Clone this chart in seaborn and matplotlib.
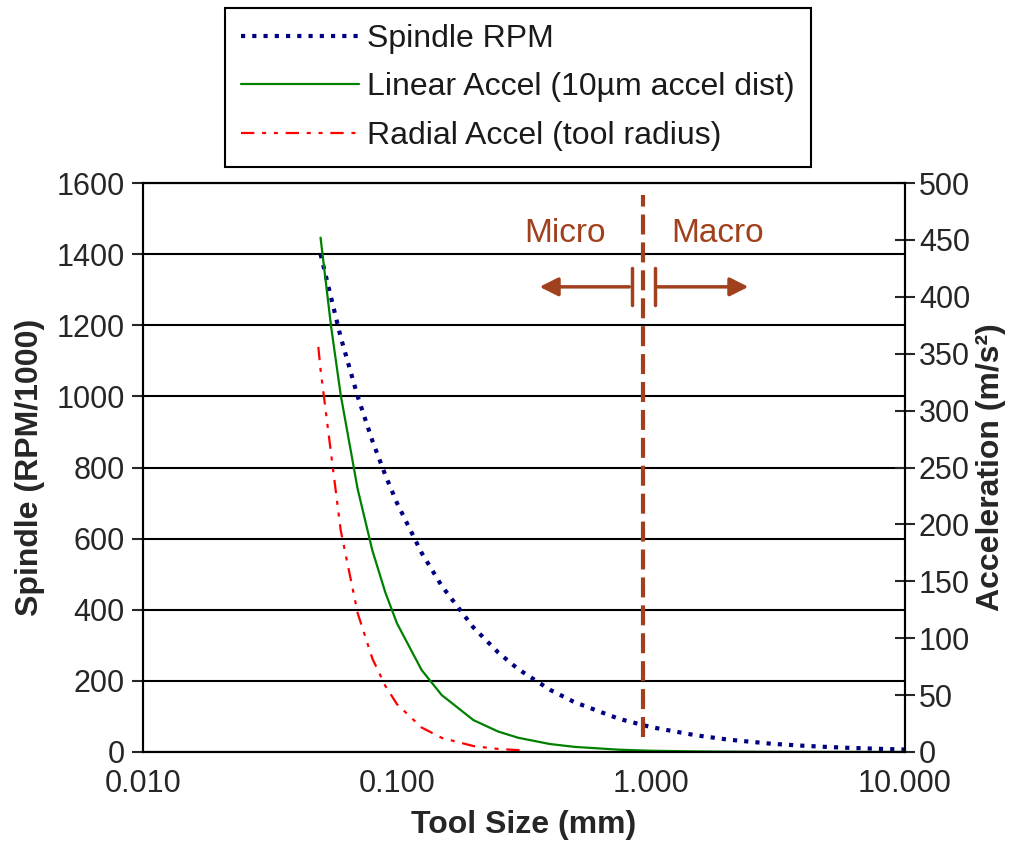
import matplotlib
matplotlib.use("Agg")
import matplotlib.pyplot as plt
import seaborn as sns
from matplotlib.ticker import FixedLocator, FuncFormatter, NullLocator

# spindle speed (RPM/1000) vs tool size (mm)
rpm_size = [0.05, 0.06, 0.07, 0.08, 0.09, 0.1, 0.125, 0.15, 0.2, 0.25, 0.3, 0.4,
            0.5, 0.75, 1.0, 1.5, 2.0, 3.0, 4.0, 5.0, 6.0, 8.0, 10.0]
rpm_vals = [1400, 1167, 1000, 875, 778, 700, 560, 467, 350, 280, 233, 175,
            140, 93, 70, 47, 35, 23, 17.5, 14, 11.7, 8.75, 7]

# linear accel (m/s^2), 10um accel distance
lin_size = [0.05, 0.055, 0.06, 0.07, 0.08, 0.09, 0.1, 0.125, 0.15, 0.2, 0.25, 0.3,
            0.4, 0.5, 0.75, 1.0, 1.5, 2.0, 3.0, 5.0, 10.0]
lin_vals = [452, 374, 314, 231, 177, 140, 113, 72, 50, 28, 18, 12.5,
            7, 4.5, 2, 1.1, 0.5, 0.3, 0.1, 0.05, 0.01]

# radial accel (m/s^2), tool radius
rad_size = [0.049, 0.05, 0.06, 0.07, 0.08, 0.09, 0.1, 0.125, 0.15, 0.2, 0.25, 0.32]
rad_vals = [356, 336, 195, 122, 82, 58, 42, 21.5, 12.4, 5.2, 2.7, 1.3]

x_ticks = [0.01, 0.1, 1.0, 10.0]
brown = "#A0401C"

sns.set_style("white")
plt.rcParams['font.family'] = ['Liberation Sans', 'DejaVu Sans']
plt.rcParams['text.color'] = '#1a1a1a'

fig = plt.figure(figsize=(10.2, 8.5), dpi=100)
ax = fig.add_axes([0.1402, 0.1153, 0.7471, 0.6694])
ax.set_xscale('log')
ax2 = ax.twinx()

sns.lineplot(x=rpm_size, y=rpm_vals, ax=ax, color='#000080', lw=3,
             linestyle=(0, (1, 1.7)))
sns.lineplot(x=lin_size, y=lin_vals, ax=ax2, color='#008000', lw=1.6)
sns.lineplot(x=rad_size, y=rad_vals, ax=ax2, color='#FF0000', lw=1.6,
             linestyle=(0, (6, 3.5, 1.8, 3.5, 1.8, 3.5)))

ax.set_xlim(0.01, 10)
ax.set_ylim(0, 1600)
ax2.set_ylim(0, 500)

# micro / macro divider
ax.plot([0.93, 0.93], [42, 1566], color=brown, lw=3, dashes=(4.8, 1.9))
for xb in [0.842, 1.037]:
    ax.plot([xb, xb], [1257, 1361], color=brown, lw=2.5)
ax.annotate('', xy=(0.355, 1308), xytext=(0.842, 1308),
            arrowprops=dict(arrowstyle='-|>', color=brown, lw=2.5, mutation_scale=28))
ax.annotate('', xy=(2.48, 1308), xytext=(1.037, 1308),
            arrowprops=dict(arrowstyle='-|>', color=brown, lw=2.5, mutation_scale=28))
ax.text(0.458, 1459, 'Micro', color=brown, fontsize=24, ha='center', va='center')
ax.text(1.82, 1459, 'Macro', color=brown, fontsize=24, ha='center', va='center')

# axes styling
ax.yaxis.grid(True, color='black', lw=1.5)
ax.xaxis.grid(False)
ax.set_axisbelow(True)
for a in (ax, ax2):
    for s in a.spines.values():
        s.set_color('black')
        s.set_linewidth(1.5)

ax.xaxis.set_major_locator(FixedLocator(x_ticks))
ax.xaxis.set_minor_locator(NullLocator())
ax.xaxis.set_major_formatter(FuncFormatter(lambda v, p: f"{v:.3f}"))
ax.set_yticks(range(0, 1601, 200))
ax2.set_yticks(range(0, 501, 50))

ax.tick_params(axis='x', direction='out', length=10, width=1.5, labelsize=22, pad=2)
ax.tick_params(axis='y', direction='out', length=8, width=1.5, labelsize=22, pad=5)
ax2.tick_params(axis='y', direction='inout', length=14, width=1.5, labelsize=22, pad=3)
ax.tick_params(axis='x', which='minor', length=0)

ax.set_xlabel('Tool Size (mm)', fontsize=23, fontweight='bold', labelpad=8)
ax.set_ylabel('Spindle (RPM/1000)', fontsize=23, fontweight='bold', labelpad=8)
ax2.set_ylabel('Acceleration (m/s²)', fontsize=23, fontweight='bold', labelpad=4)

handles = [ax.lines[0], ax2.lines[0], ax2.lines[1]]
labels = ['Spindle RPM', 'Linear Accel (10µm accel dist)', 'Radial Accel (tool radius)']
leg = fig.legend(handles, labels, loc='upper left', bbox_to_anchor=(225 / 1020, 1 - 8 / 850),
                 frameon=True, fancybox=False, edgecolor='black', fontsize=23,
                 handlelength=3.7, handletextpad=0.25, labelspacing=0.58,
                 borderpad=0.5, borderaxespad=0, framealpha=1)
leg.get_frame().set_linewidth(1.5)

fig.savefig('out.png', dpi=100)
